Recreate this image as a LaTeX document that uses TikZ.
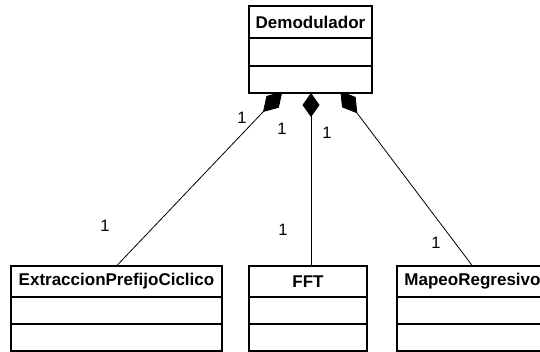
\documentclass[tikz,border=0pt]{standalone}
\usepackage{fontspec}
\setmainfont{Liberation Sans}
\usetikzlibrary{arrows.meta,backgrounds}

\tikzset{
  classbox/.style={draw, fill=white, line width=1.2pt, inner sep=0pt, outer sep=0pt, anchor=north west},
  classname/.style={classbox, font=\fontsize{17}{20}\selectfont\bfseries},
  mult/.style={font=\fontsize{16.5}{19}\selectfont, inner sep=0pt},
  whole/.style={line width=0.8pt, -{Diamond[length=28pt,width=17pt]}},
  wholeshort/.style={line width=0.8pt, -{Diamond[length=24pt,width=17pt]}},
}

\begin{document}
\begin{tikzpicture}[x=1pt,y=-1pt]
  \useasboundingbox (0,0) rectangle (540,352);
  \clip (0,0) rectangle (540,352);

  % aggregate class
  \node[classname, minimum width=123pt, minimum height=32pt] (demod) at (249,6) {Demodulador};
  \node[classbox, minimum width=123pt, minimum height=28pt] (demodA) at (demod.south west) {};
  \node[classbox, minimum width=123pt, minimum height=27pt] (demodB) at (demodA.south west) {};

  % part classes
  \node[classname, minimum width=211pt, minimum height=31pt] (ext) at (11,266) {ExtraccionPrefijoCiclico};
  \node[classbox, minimum width=211pt, minimum height=27pt] (extA) at (ext.south west) {};
  \node[classbox, minimum width=211pt, minimum height=27pt] (extB) at (extA.south west) {};

  \node[classname, minimum width=118pt, minimum height=31pt] (fft) at (249,266) {FFT};
  \node[classbox, minimum width=118pt, minimum height=27pt] (fftA) at (fft.south west) {};
  \node[classbox, minimum width=118pt, minimum height=27pt] (fftB) at (fftA.south west) {};

  \node[classname, minimum width=151pt, minimum height=31pt] (mapeo) at (397,266) {MapeoRegresivo};
  \node[classbox, minimum width=151pt, minimum height=27pt] (mapeoA) at (mapeo.south west) {};
  \node[classbox, minimum width=151pt, minimum height=27pt] (mapeoB) at (mapeoA.south west) {};

  % composition ends, partly hidden under the aggregate box
  \coordinate (d1) at (282.3,91.7);
  \coordinate (d2) at (311,93);
  \coordinate (d3) at (340.4,91);
  \coordinate (fftTop) at (311,266);

  \begin{scope}[on background layer]
    \fill[white] (0,0) rectangle (540,352);
    \draw[whole] (ext.north) -- (d1);
    \draw[wholeshort] (fftTop) -- (d2);
    \draw[whole] (mapeo.north) -- (d3);
  \end{scope}

  % multiplicities
  \node[mult] (m1) at (242,118) {1};
  \node[mult] (m2) at (282,129) {1};
  \node[mult] (m3) at (327,133) {1};
  \node[mult] (m4) at (105,226) {1};
  \node[mult] (m5) at (283,230) {1};
  \node[mult] (m6) at (436,243) {1};
\end{tikzpicture}
\end{document}
